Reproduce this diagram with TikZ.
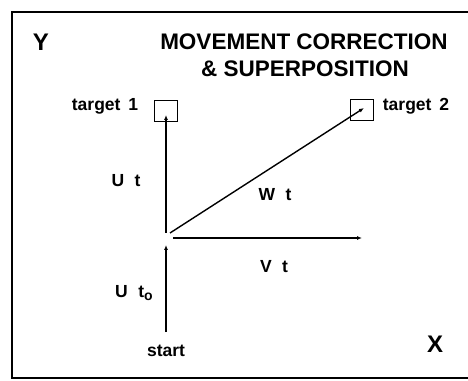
\documentclass[tikz,border=0pt]{standalone}
\usepackage{fontspec}
\setmainfont{Liberation Sans}
\usetikzlibrary{arrows.meta}
\tikzset{
  frameline/.style={line width=1.8pt},
  pathedge/.style={line width=1.4pt,-{Latex[length=5pt,width=4pt]}},
  targetbox/.style={rectangle,draw,line width=0.9pt,
    minimum width=23pt,minimum height=21pt,inner sep=0pt},
  labelnode/.style={font=\bfseries\fontsize{17.5}{19}\selectfont,inner sep=0pt},
  titlenode/.style={font=\bfseries\fontsize{22.5}{24}\selectfont,inner sep=0pt},
  axisnode/.style={font=\bfseries\fontsize{24}{26}\selectfont,inner sep=0pt}
}
\newcommand{\lowo}{\raisebox{-0.3ex}{\fontsize{14}{15}\selectfont o}}

\begin{document}
\begin{tikzpicture}[x=1pt,y=1pt]
  \useasboundingbox (0,0) rectangle (468,380);
  \draw[frameline] (468,368) -- (12,368) -- (12,2) -- (468,2);

  \node[titlenode] (title1) at (304,338) {MOVEMENT CORRECTION};
  \node[titlenode] (title2) at (305,311) {\& SUPERPOSITION};
  \node[axisnode] (ylab) at (41,338) {Y};
  \node[axisnode] (xlab) at (435,36) {X};

  \node[targetbox] (tgt1) at (166,269) {};
  \node[targetbox] (tgt2) at (362,270) {};
  \node[labelnode] (tgt1lab) at (105,274) {target\hspace{0.45em}1};
  \node[labelnode] (tgt2lab) at (416,274) {target\hspace{0.45em}2};

  \coordinate (start) at (166,48);
  \coordinate (mid) at (166,142);
  \coordinate (vend) at (362,142);
  \node[labelnode] (startlab) at (166,29) {start};

  \draw[pathedge] (start) -- ([yshift=-7pt]mid);
  \draw[pathedge] ([yshift=5pt]mid) -- ([yshift=-4pt]tgt1.center);
  \draw[pathedge] ([xshift=7pt]mid) -- (vend);
  \draw[pathedge] ([shift={(4pt,5pt)}]mid) -- ([shift={(2pt,2pt)}]tgt2.center);

  \node[labelnode] (ulab) at (126,199) {U\hspace{0.6em}t};
  \node[labelnode] (wlab) at (275,185) {W\hspace{0.6em}t};
  \node[labelnode] (vlab) at (274,113) {V\hspace{0.6em}t};
  \node[labelnode] (u0lab) at (134,87) {U\hspace{0.6em}t\lowo};
\end{tikzpicture}
\end{document}
